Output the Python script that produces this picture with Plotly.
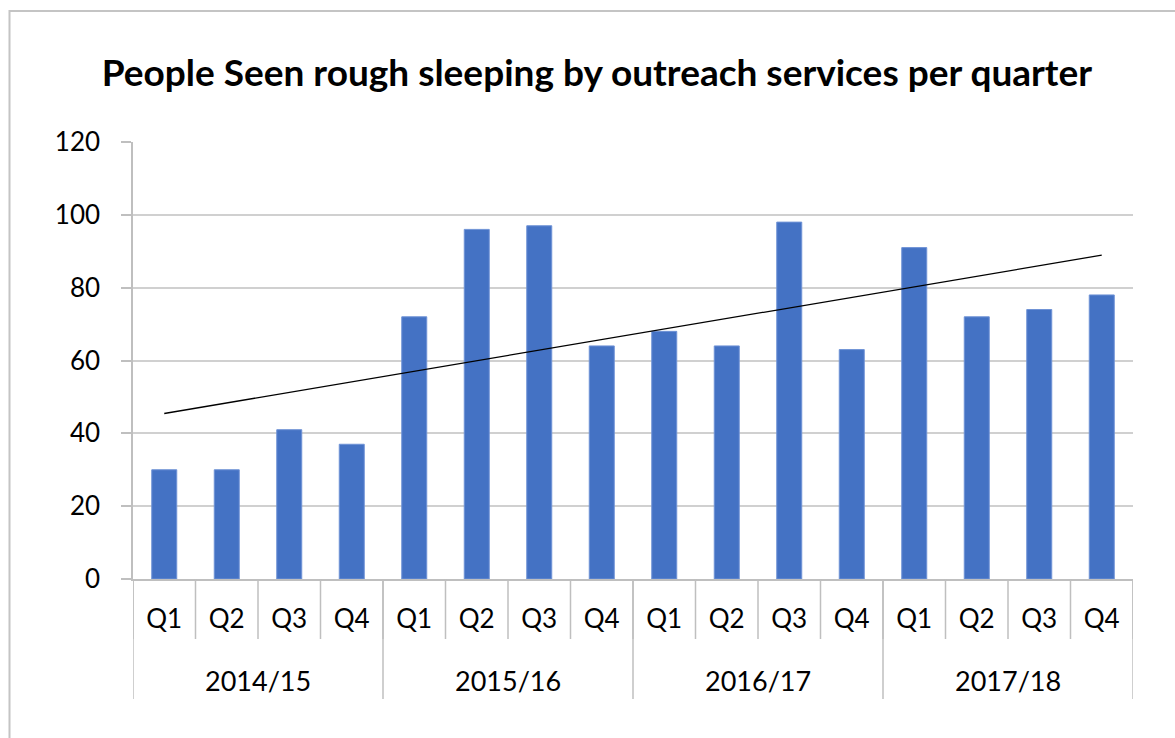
import numpy as np
import plotly.graph_objects as go

# Quarterly counts of people seen rough sleeping
years = ["2014/15", "2015/16", "2016/17", "2017/18"]
quarters = ["Q1", "Q2", "Q3", "Q4"]
people_seen = [30, 30, 41, 37,
               72, 96, 97, 64,
               68, 64, 98, 63,
               91, 72, 74, 78]

x_pos = np.arange(len(people_seen))
quarter_labels = quarters * len(years)

# Linear trend line fitted to the quarterly series
slope, intercept = np.polyfit(x_pos + 1, people_seen, 1)
trend_x = [x_pos[0], x_pos[-1]]
trend_y = [slope * (x + 1) + intercept for x in trend_x]

BAR = "#4472C4"
AXIS = "#BFBFBF"
GRID = "#D0D0D0"
FONT = "Lato"

fig = go.Figure()
fig.add_trace(go.Bar(
    x=x_pos, y=people_seen, width=0.4,
    marker=dict(color=BAR, line=dict(color="#6F93D6", width=1)),
    hoverinfo="y", showlegend=False,
))
fig.add_trace(go.Scatter(
    x=trend_x, y=trend_y, mode="lines",
    line=dict(color="black", width=1.3),
    hoverinfo="skip", showlegend=False,
))

# Plot geometry in pixels, used to place the category dividers
plot_h = 437
q_row = 60   # depth of the quarter label row
y_row = 120  # depth including the year row

shapes = []
n = len(people_seen)
# Quarter dividers
for k in range(n + 1):
    shapes.append(dict(type="line", xref="x", yref="paper",
                       x0=k - 0.5, x1=k - 0.5, y0=0, y1=-q_row / plot_h,
                       line=dict(color=AXIS, width=1.5)))
# Year dividers
for k in range(0, n + 1, len(quarters)):
    shapes.append(dict(type="line", xref="x", yref="paper",
                       x0=k - 0.5, x1=k - 0.5, y0=0, y1=-y_row / plot_h,
                       line=dict(color=AXIS, width=1.5)))
# Chart border
shapes.append(dict(type="rect", xref="paper", yref="paper",
                   x0=(9.5 - 133) / 1000, x1=1.2, y0=-0.5, y1=(579 - 11) / plot_h,
                   line=dict(color="#C4C4C4", width=2), layer="below"))

annotations = []
for i, yr in enumerate(years):
    annotations.append(dict(
        x=i * len(quarters) + (len(quarters) - 1) / 2, xref="x",
        y=-(680 - 579) / plot_h, yref="paper",
        text=yr, showarrow=False, yanchor="middle",
        font=dict(family=FONT, size=27, color="black"),
    ))

fig.update_layout(
    width=1175, height=738,
    margin=dict(l=133, r=42, t=142, b=159),
    paper_bgcolor="white", plot_bgcolor="white",
    title=dict(
        text="<b>People Seen rough sleeping by outreach services per quarter</b>",
        x=0.508, xanchor="center", y=1 - 73 / 738, yanchor="middle",
        font=dict(family=FONT, size=37, color="black"),
    ),
    xaxis=dict(
        range=[-0.5, n - 0.5],
        tickmode="array", tickvals=x_pos, ticktext=quarter_labels,
        ticks="", showgrid=False, zeroline=False,
        showline=True, linecolor=AXIS, linewidth=1.5,
        tickfont=dict(family=FONT, size=26, color="black"),
        ticklabelstandoff=16,
        fixedrange=True,
    ),
    yaxis=dict(
        range=[0, 120], tickmode="array", tickvals=list(range(0, 121, 20)),
        ticks="outside", ticklen=10, tickcolor=AXIS, tickwidth=1.5,
        showgrid=True, gridcolor=GRID, gridwidth=1.5,
        zeroline=False, showline=True, linecolor=AXIS, linewidth=1.5,
        tickfont=dict(family=FONT, size=26, color="black"),
        ticklabelstandoff=16,
        fixedrange=True,
    ),
    shapes=shapes, annotations=annotations,
    bargap=0.6,
)

fig.write_html("out.html")
